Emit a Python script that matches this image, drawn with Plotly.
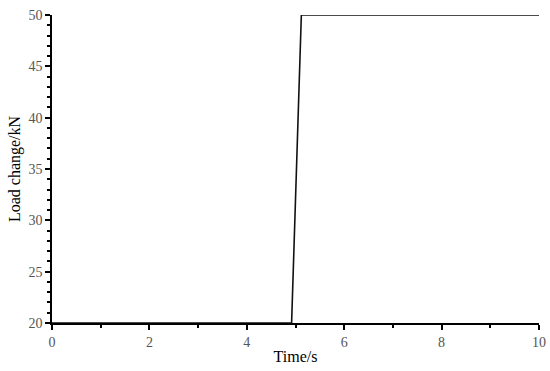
import plotly.graph_objects as go

# load step: flat at 20 kN, ramps up to 50 kN around t = 5 s
time_s = [0, 4.92, 5.12, 10]
load_kn = [20, 20, 50, 50]

fig = go.Figure()
fig.add_trace(go.Scatter(x=time_s, y=load_kn, mode='lines',
                         line=dict(color='#111111', width=1.6), showlegend=False))

axis_common = dict(showline=True, linecolor='black', linewidth=1.5, mirror=False,
                   ticks='outside', ticklen=5, tickwidth=1.5, tickcolor='black',
                   showgrid=False, zeroline=False, automargin=False,
                   tickfont=dict(family='Liberation Serif', size=14, color='#555555'))

fig.update_xaxes(range=[0, 10], dtick=2, title=dict(text='Time/s', standoff=2,
                 font=dict(family='Liberation Serif', size=16, color='black')),
                 minor=dict(dtick=1, ticks='outside', ticklen=3, tickwidth=1.5, tickcolor='black'),
                 **axis_common)
fig.update_yaxes(range=[20, 50], dtick=5, title=dict(text='Load change/kN', standoff=4,
                 font=dict(family='Liberation Serif', size=16, color='black')),
                 minor=dict(dtick=1, ticks='outside', ticklen=3, tickwidth=1.5, tickcolor='black'),
                 **axis_common)

fig.update_layout(width=550, height=371,
                  paper_bgcolor='white', plot_bgcolor='white',
                  margin=dict(l=52, r=11, t=15, b=48))

# drop the default page margin so the figure sits flush in the window
fig.write_html("out.html", config={'displayModeBar': False},
               post_script="document.body.style.margin='0';")
